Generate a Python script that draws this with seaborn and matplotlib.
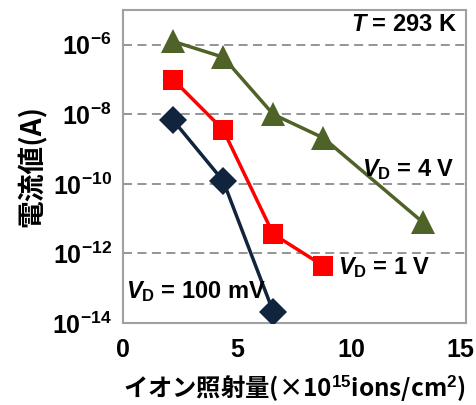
import numpy as np
import pandas as pd
import seaborn as sns
import matplotlib
matplotlib.use("Agg")
import matplotlib.pyplot as plt
from matplotlib.ticker import FixedLocator, FuncFormatter, NullFormatter
from matplotlib.transforms import ScaledTranslation

# データ (イオン照射量 ×10^15 ions/cm^2, 電流値 A)
dose_4v = [2.19, 4.38, 6.57, 8.76, 13.1]
cur_4v = [1.25e-6, 4.4e-7, 1.0e-8, 2.1e-9, 8.0e-12]

dose_1v = [2.19, 4.38, 6.57, 8.76]
cur_1v = [1.0e-7, 3.6e-9, 3.6e-12, 4.4e-13]

dose_100mv = [2.19, 4.38, 6.57]
cur_100mv = [6.8e-9, 1.22e-10, 2.1e-14]

sns.set_style("white")
plt.rcParams["font.family"] = ["Liberation Sans", "Noto Sans CJK JP", "DejaVu Sans"]
plt.rcParams["font.weight"] = "bold"
plt.rcParams["text.color"] = "black"
plt.rcParams["axes.labelcolor"] = "black"
plt.rcParams["mathtext.fontset"] = "custom"
plt.rcParams["mathtext.rm"] = "Liberation Sans:bold"
plt.rcParams["mathtext.bf"] = "Liberation Sans:bold"
plt.rcParams["mathtext.it"] = "Liberation Sans:bold:italic"

fig = plt.figure(figsize=(4.76, 4.05), dpi=100)
ax = fig.add_axes([0.2584, 0.2025, 0.979 - 0.2584, 0.9753 - 0.2025])

df_4v = pd.DataFrame({"dose": dose_4v, "cur": cur_4v})
df_1v = pd.DataFrame({"dose": dose_1v, "cur": cur_1v})
df_100 = pd.DataFrame({"dose": dose_100mv, "cur": cur_100mv})

sns.lineplot(data=df_4v, x="dose", y="cur", ax=ax, color="#4f6228", lw=2.5,
             marker="^", markersize=17, markeredgewidth=0, zorder=3)
sns.lineplot(data=df_1v, x="dose", y="cur", ax=ax, color="#ff0000", lw=2.5,
             marker="s", markersize=14, markeredgewidth=0, zorder=3)
sns.lineplot(data=df_100, x="dose", y="cur", ax=ax, color="#10243e", lw=2.5,
             marker="D", markersize=14, markeredgewidth=0, zorder=3)

ax.set_yscale("log")
ax.set_xlim(0, 15)
ax.set_ylim(1e-14, 1e-5)

major = [1e-14, 1e-12, 1e-10, 1e-8, 1e-6]
ax.yaxis.set_major_locator(FixedLocator(major))
minor = []
for e in range(-14, -5):
    for m in range(1, 10):
        v = m * 10.0 ** e
        if v not in major:
            minor.append(v)
ax.yaxis.set_minor_locator(FixedLocator(minor))
ax.yaxis.set_minor_formatter(NullFormatter())
ax.yaxis.set_major_formatter(FuncFormatter(
    lambda v, p: r"$10^{%d}$" % int(round(np.log10(v)))))
ax.set_xticks([0, 5, 10, 15])

for y in major[1:]:
    ax.axhline(y, color="#8c8c8c", lw=1.3, ls=(0, (5, 3)), zorder=1)

for s in ax.spines.values():
    s.set_color("#a0a0a0")
    s.set_linewidth(1.5)

ax.tick_params(axis="both", which="major", labelsize=18, color="#a0a0a0",
               labelcolor="black", length=5, width=1.5, direction="out")
ax.tick_params(axis="y", which="minor", color="#a0a0a0", length=4,
               width=1.2, direction="out")
ax.tick_params(axis="x", which="both", pad=6)
ax.tick_params(axis="y", which="major", pad=3)

# 右端の「15」が切れないよう少し左へ
last = ax.get_xticklabels()[-1]
last.set_transform(last.get_transform() +
                   ScaledTranslation(-4 / 72, 0, fig.dpi_scale_trans))

ax.set_xlabel(r"イオン照射量(×10$^{15}$ions/cm$^{2}$)", fontsize=17.5,
              fontweight="bold", family=["Noto Sans CJK JP", "DejaVu Sans"],
              labelpad=8)
ax.set_ylabel("電流値(A)", fontsize=20, fontweight="bold",
              family=["Noto Sans CJK JP", "DejaVu Sans"], labelpad=4)

ax.text(0.975, 0.955, r"$\mathit{T}$ = 293 K", transform=ax.transAxes,
        ha="right", va="center", fontsize=17, fontweight="bold")
ax.annotate(r"$\mathit{V}_{\mathrm{D}}$ = 4 V", xy=(0.968, 0.49),
            xycoords="axes fraction", ha="right", va="center",
            fontsize=17, fontweight="bold")
ax.annotate(r"$\mathit{V}_{\mathrm{D}}$ = 1 V", xy=(9.4, 4.0e-13),
            xycoords="data", ha="left", va="center",
            fontsize=17, fontweight="bold")
ax.annotate(r"$\mathit{V}_{\mathrm{D}}$ = 100 mV", xy=(0.15, 8e-14),
            xycoords="data", ha="left", va="center",
            fontsize=17, fontweight="bold")

fig.savefig("out.png", dpi=100)
